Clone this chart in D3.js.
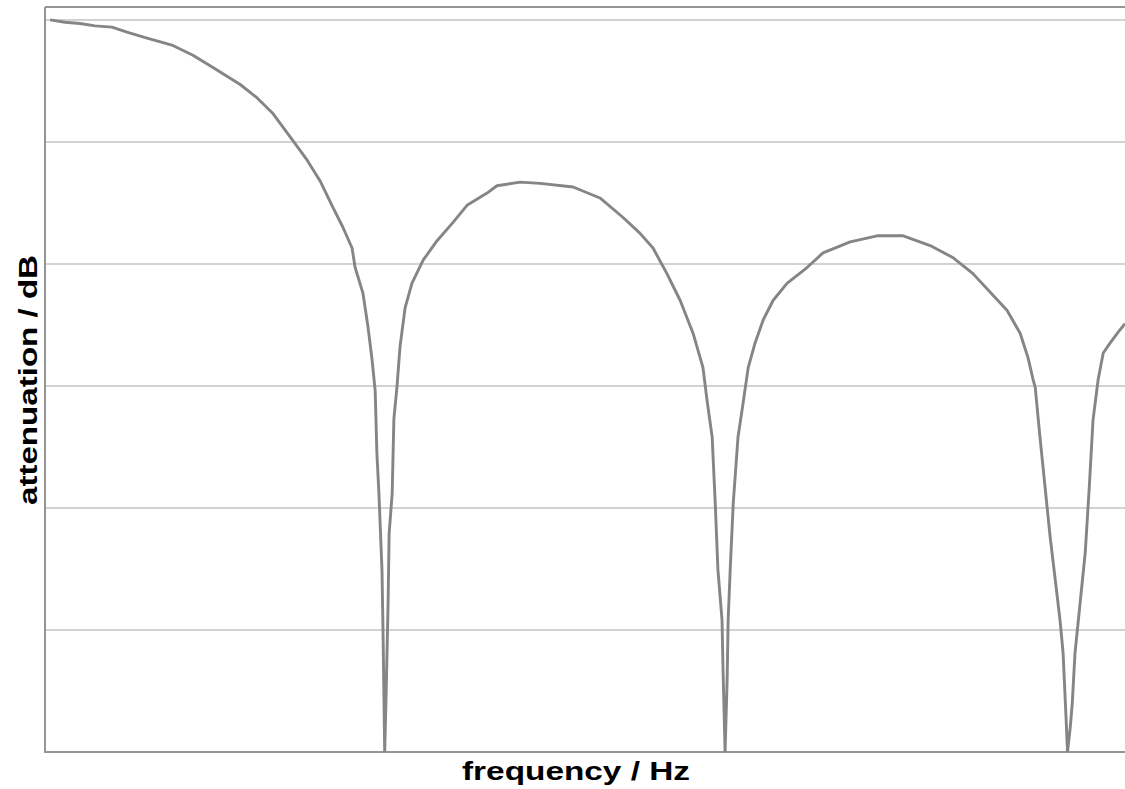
<!DOCTYPE html>
<html>
<head>
<meta charset="utf-8">
<script src="https://cdn.jsdelivr.net/npm/d3@7"></script>
<style>
  html, body { margin: 0; padding: 0; background: #ffffff; }
  svg { display: block; }
  .label { font-family: "Liberation Sans", Arial, sans-serif; font-weight: bold; fill: #000; }
</style>
</head>
<body>
<svg id="chart" width="1125" height="789"></svg>
<script>
// Frequency response of the filter: frequency (Hz) and attenuation (dB)
const freqHz = [
  15, 59, 103, 147, 197, 241, 300, 376, 435, 494, 574, 624, 671, 729, 771, 809, 847, 876, 903,
  912, 935, 950, 962, 971, 976, 982, 991, 994, 999,
  1003, 1009, 1012, 1021, 1026, 1035, 1044, 1059, 1079, 1112, 1153, 1200, 1241, 1300, 1329,
  1397, 1456, 1553, 1632, 1700, 1750, 1788, 1829, 1868, 1906, 1935, 1947, 1962, 1971, 1979,
  1991, 1994, 2000,
  2006, 2009, 2015, 2024, 2038, 2053, 2068, 2088, 2112, 2141, 2182, 2241, 2288, 2368, 2447,
  2524, 2603, 2671, 2729, 2779, 2829, 2868, 2891, 2906, 2912, 2926, 2941, 2956, 2971, 2985,
  2994, 3003, 3007,
  3015, 3021, 3029, 3044, 3059, 3071, 3082, 3097, 3112, 3132, 3156, 3176
];
const attenuationDb = [
  0.0, -0.2, -0.3, -0.5, -0.6, -1.0, -1.5, -2.1, -2.9, -3.9, -5.3, -6.4, -7.7, -9.9, -11.5, -13.2, -15.4, -17.0, -18.7,
  -20.3, -22.4, -25.2, -27.9, -30.4, -35.5, -38.8, -45.1, -50.0, -60.0,
  -55.5, -47.8, -42.1, -38.8, -32.7, -30.1, -26.8, -23.6, -21.6, -19.7, -18.1, -16.6, -15.2, -14.2, -13.6,
  -13.3, -13.4, -13.7, -14.6, -16.2, -17.5, -18.7, -20.8, -23.0, -25.7, -28.5, -31.2, -34.2, -39.6, -45.1,
  -49.2, -53.3, -60.0,
  -54.1, -49.2, -45.1, -39.6, -34.2, -31.4, -28.5, -26.5, -24.6, -23.0, -21.6, -20.3, -19.1, -18.2, -17.7,
  -17.7, -18.5, -19.5, -20.8, -22.3, -23.8, -25.7, -27.7, -29.5, -30.1, -34.2, -38.3, -42.4, -45.9, -49.2,
  -51.9, -57.4, -60.0,
  -58.0, -56.0, -51.9, -47.8, -43.7, -38.3, -32.8, -29.5, -27.3, -26.5, -25.6, -24.9
];
// Horizontal grid levels (dB)
const gridDb = [0, -10, -20, -30, -40, -50];

const xLabel = "frequency / Hz";
const yLabel = "attenuation / dB";

const svg = d3.select("#chart");
const plot = { left: 45, right: 1126, top: 7, bottom: 752 };

const x = d3.scaleLinear().domain([0, 3179]).range([plot.left, plot.right]);
const y = d3.scaleLinear().domain([-60, 1.05]).range([plot.bottom, plot.top]);

svg.append("defs").append("clipPath").attr("id", "plotClip")
  .append("rect")
  .attr("x", plot.left).attr("y", plot.top)
  .attr("width", plot.right - plot.left).attr("height", plot.bottom - plot.top);

// grid lines
svg.append("g")
  .attr("transform", `translate(${plot.left},0)`)
  .call(d3.axisRight(y).tickValues(gridDb).tickSize(plot.right - plot.left).tickFormat(""))
  .call(g => g.select(".domain").remove())
  .call(g => g.selectAll(".tick line")
    .attr("stroke", "#d2d2d2").attr("stroke-width", 2).attr("shape-rendering", "crispEdges"));

// frame: left, top and bottom edges
const frame = svg.append("g").attr("stroke", "#949494").attr("stroke-width", 2)
  .attr("shape-rendering", "crispEdges").attr("fill", "none");
frame.append("line").attr("x1", plot.left - 0.5).attr("x2", plot.left - 0.5)
  .attr("y1", plot.top).attr("y2", plot.bottom + 1);
frame.append("line").attr("x1", plot.left).attr("x2", plot.right)
  .attr("y1", plot.top).attr("y2", plot.top);
frame.append("line").attr("x1", plot.left).attr("x2", plot.right)
  .attr("y1", plot.bottom).attr("y2", plot.bottom);

// response curve
const points = freqHz.map((f, i) => [f, attenuationDb[i]]);
const line = d3.line().x(d => x(d[0])).y(d => y(d[1]));
svg.append("path")
  .datum(points)
  .attr("clip-path", "url(#plotClip)")
  .attr("d", line)
  .attr("fill", "none")
  .attr("stroke", "#858585")
  .attr("stroke-width", 2.9)
  .attr("stroke-linejoin", "round");

// axis titles
svg.append("text").attr("class", "label")
  .attr("x", 576).attr("y", 780)
  .attr("text-anchor", "middle")
  .attr("font-size", 26)
  .attr("textLength", 228).attr("lengthAdjust", "spacingAndGlyphs")
  .text(xLabel);

svg.append("text").attr("class", "label")
  .attr("transform", "translate(37,380) rotate(-90)")
  .attr("text-anchor", "middle")
  .attr("font-size", 26)
  .attr("textLength", 250).attr("lengthAdjust", "spacingAndGlyphs")
  .text(yLabel);
</script>
</body>
</html>
